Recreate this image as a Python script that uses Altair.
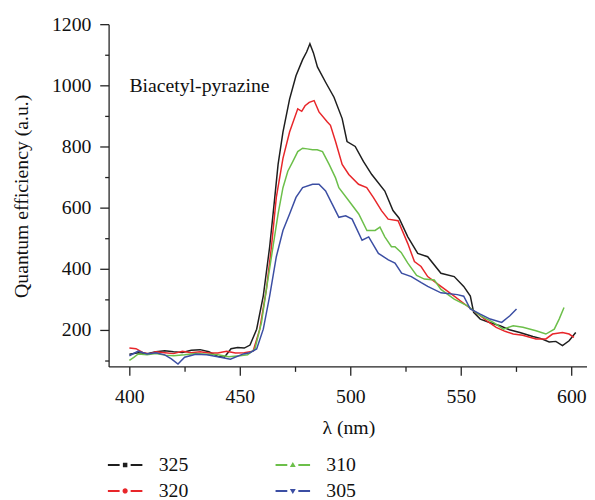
import altair as alt
import pandas as pd

FONT = "Liberation Serif"
FS = 20

series_order = ["325", "310", "320", "305"]
series_colors = ["#1e1e1e", "#6cbf4a", "#e8262a", "#3b4ea3"]
line_order = ["325", "320", "310", "305"]
line_colors = ["#1e1e1e", "#e8262a", "#6cbf4a", "#3b4ea3"]
legend_paths = [
    "M-2,-0.12H-0.64V0.12H-2Z M0.64,-0.12H2V0.12H0.64Z M-0.26,-0.26H0.26V0.26H-0.26Z",
    "M-2,-0.12H-0.64V0.12H-2Z M0.64,-0.12H2V0.12H0.64Z M0,-0.36L0.34,0.22L-0.34,0.22Z",
    "M-2,-0.12H-0.64V0.12H-2Z M0.64,-0.12H2V0.12H0.64Z M-0.3,0A0.3,0.3 0 1 0 0.3,0A0.3,0.3 0 1 0 -0.3,0Z",
    "M-2,-0.12H-0.64V0.12H-2Z M0.64,-0.12H2V0.12H0.64Z M0,0.36L0.34,-0.22L-0.34,-0.22Z",
]

lam_325 = [400, 404, 408, 412, 416, 420, 424, 428, 432, 436, 440, 443, 446, 449, 452,
           454.6, 457.6, 460.6, 463.5, 465.8, 467.3, 469.5, 472.5, 475.4, 478.4,
           480.2, 481.7, 483.3, 485.1, 488.8, 492.6, 496.3, 498.5, 502.2, 505.9,
           509.7, 515.6, 519.3, 522, 526, 530.5, 535, 541, 547, 551.3,
           554.3, 555.8, 558.8, 563, 567.7, 572, 576.7, 582.6, 586, 590, 593, 596, 599, 602]
val_325 = [120, 125, 122, 128, 131, 128, 126, 133, 135, 128, 113, 110, 138, 142, 140,
           150, 202, 311, 472, 633, 741, 847, 955, 1031, 1084,
           1109, 1136, 1106, 1060, 1010, 961, 891, 816, 800, 751,
           708, 654, 590, 566, 504, 450, 439, 385, 374, 342,
           310, 257, 235, 224, 213, 200, 191, 178, 172, 160, 162, 148, 164, 191]

lam_320 = [400, 403, 406, 409, 412, 416, 420, 424, 428, 432, 436, 440, 444, 448, 452,
           456, 459, 462, 464.3, 466.5, 469.5, 472.5, 476.2, 478, 479.5,
           481.4, 483.6, 485.8, 489.6, 491, 493.3, 496.3, 499.3, 503.7, 507.4,
           510.4, 514.1, 517.1, 521.6, 526, 529, 532, 535, 541, 547,
           553, 558.8, 562, 566, 570, 573.7, 578, 584, 588.5, 591.5, 596, 599, 601.2]
val_320 = [140, 138, 126, 121, 128, 125, 122, 130, 125, 128, 124, 124, 130, 124, 125,
           130, 202, 332, 472, 633, 761, 847, 923, 915, 933,
           944, 950, 913, 880, 869, 816, 741, 708, 676, 665,
           633, 590, 562, 557, 482, 423, 407, 374, 342, 310,
           277, 246, 228, 208, 195, 186, 182, 170, 170, 186, 191, 186, 175]

lam_310 = [400, 402, 404, 408, 412, 416, 420, 425, 430, 435, 440, 445, 450, 453.5, 456.8,
           459.8, 462, 465, 467.3, 469.5, 471.7, 474, 476.2, 478.4, 480.5,
           482.9, 485, 487.4, 490.4, 493.3, 494.8, 499.3, 503.8, 507.5, 511.2,
           513.4, 515.6, 518.6, 520.2, 523, 526, 530, 533.5, 538, 541,
           547, 553, 558.8, 564.7, 569.2, 573.7, 578.1, 584, 588.5, 592.3, 594.5, 596.7]
val_310 = [100, 110, 121, 118, 122, 117, 115, 118, 122, 120, 118, 112, 115, 118, 137,
           224, 332, 472, 579, 665, 719, 751, 783, 794, 792,
           789, 789, 783, 741, 697, 665, 622, 579, 525, 525,
           536, 504, 472, 472, 453, 418, 378, 366, 363, 332,
           300, 278, 246, 224, 202, 213, 208, 197, 186, 202, 235, 273]

lam_305 = [400, 404, 408, 412, 416, 419, 422, 425, 430, 435, 440, 445.7, 451.6, 454.5, 457.6,
           460.6, 463.5, 466.5, 469.5, 472.5, 475.4, 478.4, 482.9, 485.8, 488.8,
           491.8, 494.8, 497.9, 500.8, 505.3, 508.3, 512.7, 517.2, 520.2, 523.2,
           527.6, 532.1, 535, 541, 548.4, 551.3, 554.3, 558.8, 563.3, 568.5, 572.2, 575.2]
val_305 = [115, 130, 121, 125, 118, 105, 88, 110, 120, 118, 112, 104, 121, 125, 137,
           202, 311, 439, 525, 579, 633, 665, 676, 676, 654,
           611, 568, 573, 562, 493, 504, 450, 429, 418, 385,
           374, 354, 342, 321, 315, 310, 268, 251, 235, 224, 246, 268]

y_major = [200, 400, 600, 800, 1000, 1200]
y_minor = [100, 300, 500, 700, 900, 1100]
x_major = [400, 450, 500, 550, 600]
x_minor = [425, 475, 525, 575]

annotation_text = ["Biacetyl-pyrazine"]
annotation_lam = [400]
annotation_val = [977]

rows = []
for name, lams, vals in [("325", lam_325, val_325), ("320", lam_320, val_320),
                         ("310", lam_310, val_310), ("305", lam_305, val_305)]:
    for l, v in zip(lams, vals):
        rows.append({"series": name, "lam": l, "val": v})
df = pd.DataFrame(rows)
ann_df = pd.DataFrame({"label": annotation_text, "lam": annotation_lam, "val": annotation_val})

xscale = alt.Scale(domain=[390.6, 607.1], nice=False, zero=False)
yscale = alt.Scale(domain=[80, 1200], nice=False, zero=False)
cscale = alt.Scale(domain=series_order, range=series_colors)
sscale = alt.Scale(domain=line_order, range=line_colors)

common_axis = dict(domainColor="#222", tickColor="#222", domainWidth=1.3, tickWidth=1.3,
                   labelFont=FONT, labelFontSize=FS, labelColor="#111",
                   titleFont=FONT, titleFontSize=FS, titleFontWeight="normal",
                   titleColor="#111", grid=False, format="d")

x_axis = alt.Axis(values=x_major, tickSize=9, labelPadding=12, title="λ (nm)", orient="bottom",
                  titleX=243, titleY=62, titleBaseline="middle", **common_axis)
y_axis = alt.Axis(values=y_major, tickSize=9, labelPadding=9, orient="left",
                  title="Quantum efficiency (a.u.)", titleX=-88, titleY=174,
                  titleBaseline="middle", titleAngle=270, **common_axis)
x_axis_minor = alt.Axis(values=x_minor, tickSize=5, labels=False, domain=False, orient="bottom",
                        title=None, tickColor="#222", tickWidth=1.3, grid=False)
y_axis_minor = alt.Axis(values=y_minor, tickSize=4, labels=False, domain=False, orient="left",
                        title=None, tickColor="#222", tickWidth=1.3, grid=False)

leg = alt.Legend(orient="none", legendX=6.75, legendY=437, direction="horizontal",
                 columns=2, columnPadding=88, rowPadding=6.2, symbolSize=306,
                 symbolStrokeWidth=0, symbolOpacity=1, labelOffset=24,
                 labelFont=FONT, labelFontSize=FS, labelColor="#111", title=None,
                 padding=0, offset=0)

lines = alt.Chart(df).mark_line(strokeWidth=1.5).encode(
    x=alt.X("lam:Q", scale=xscale, axis=x_axis),
    y=alt.Y("val:Q", scale=yscale, axis=y_axis),
    stroke=alt.Stroke("series:N", scale=sscale, legend=None),
    detail="series:N",
)

pts = alt.Chart(df).transform_filter("datum.val < 0").mark_point(filled=True).encode(
    x=alt.X("lam:Q", scale=xscale, axis=None),
    y=alt.Y("val:Q", scale=yscale, axis=None),
    color=alt.Color("series:N", scale=cscale, legend=leg),
    shape=alt.Shape("series:N", scale=alt.Scale(domain=series_order, range=legend_paths), legend=leg),
)

ann = alt.Chart(ann_df).mark_text(align="left", baseline="alphabetic", font=FONT,
                                  fontSize=FS, color="#111").encode(
    x=alt.X("lam:Q", scale=xscale, axis=x_axis_minor),
    y=alt.Y("val:Q", scale=yscale, axis=y_axis_minor),
    text="label:N",
)

chart = alt.layer(lines, pts, ann).resolve_axis(x="independent", y="independent").properties(
    width=485, height=347, autosize="none",
    padding={"left": 102, "top": 13, "right": 0, "bottom": 132},
).configure_view(stroke=None)

chart.save("out.html", embed_options={"renderer": "svg", "actions": False})
